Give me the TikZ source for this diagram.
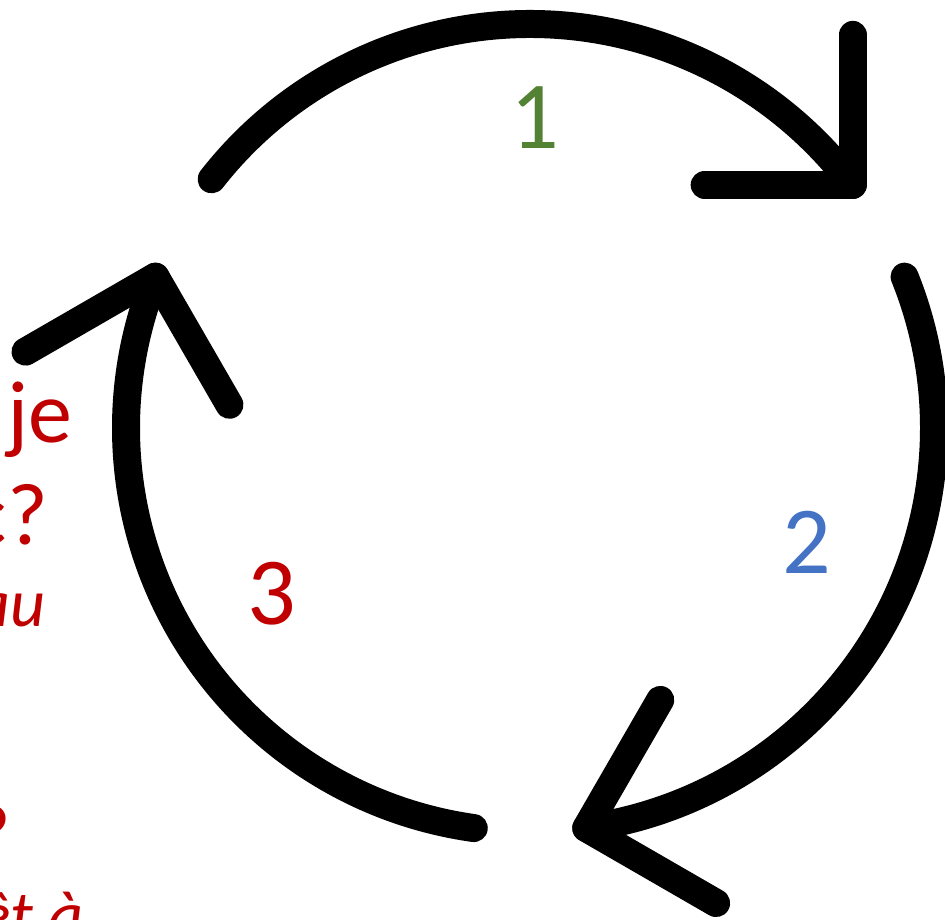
\documentclass[tikz,border=0pt]{standalone}
\usepackage{fontspec}
\setmainfont{Carlito}
\usetikzlibrary{calc}
\definecolor{numgreen}{HTML}{548235}
\definecolor{numblue}{HTML}{4472C4}
\definecolor{numred}{HTML}{C00000}
\begin{document}
\begin{tikzpicture}[x=1pt,y=1pt,
  cyc/.style={line width=28pt, line cap=round, line join=round, black},
  bigtxt/.style={text=numred, inner sep=0pt, anchor=base east, font=\fontsize{88}{100}\selectfont},
  ittxt/.style={text=numred, inner sep=0pt, anchor=base east, font=\fontsize{68}{80}\selectfont\itshape},
  num/.style={inner sep=0pt, anchor=center, font=\fontsize{96}{110}\selectfont}]
\clip (0,0) rectangle (945,920);
\coordinate (C) at (530,492);
% arrow 1
\coordinate (s1) at ($(C)+(142:404pt)$);
\coordinate (t1) at ($(C)+(37:404pt)$);
\draw[cyc] (s1) arc[start angle=142, end angle=37, radius=404pt];
\coordinate (a1) at ($(t1)+(90:150pt)$);
\coordinate (b1) at ($(t1)+(180:148pt)$);
\draw[cyc] (a1) -- (t1) -- (b1);
% arrow 2
\coordinate (s2) at ($(C)+(22:404pt)$);
\coordinate (t2) at ($(C)+(-82:404pt)$);
\draw[cyc] (s2) arc[start angle=22, end angle=-82, radius=404pt];
\coordinate (a2) at ($(t2)+(-30:150pt)$);
\coordinate (b2) at ($(t2)+(60:148pt)$);
\draw[cyc] (a2) -- (t2) -- (b2);
% arrow 3
\coordinate (s3) at ($(C)+(-98:404pt)$);
\coordinate (t3) at ($(C)+(-202:404pt)$);
\draw[cyc] (s3) arc[start angle=-98, end angle=-202, radius=404pt];
\coordinate (a3) at ($(t3)+(-150:150pt)$);
\coordinate (b3) at ($(t3)+(-60:148pt)$);
\draw[cyc] (a3) -- (t3) -- (b3);
% numbers
\node[num, text=numgreen] (n1) at (535,802) {1};
\node[num, text=numblue] (n2) at (807,378) {2};
\node[num, text=numred] (n3) at (272,326) {3};
% clipped left text
\node[bigtxt] (l1) at (73,477) {je};
\node[bigtxt] (l2) at (48,375) {c?};
\node[ittxt] (l3) at (46,293) {au};
\node[bigtxt] (l4) at (11,54) {?};
\node[ittxt] (l5) at (84,-19) {êt à};
\end{tikzpicture}
\end{document}
